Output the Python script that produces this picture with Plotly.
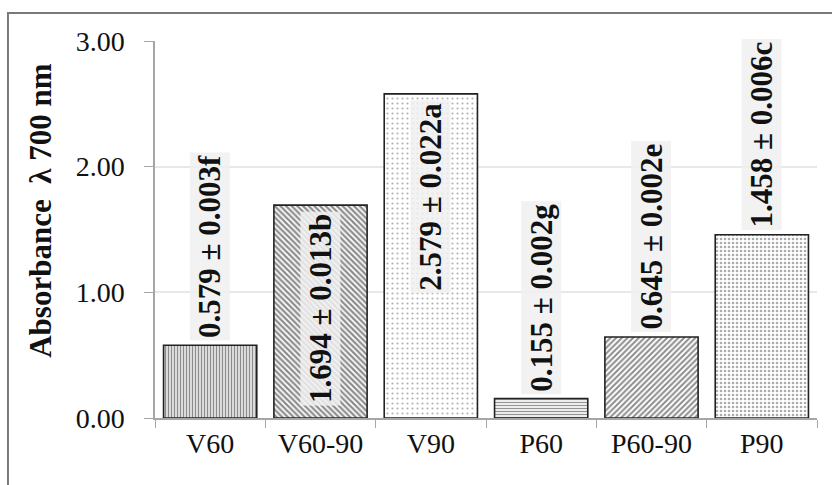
import plotly.graph_objects as go

# Absorbance at 700 nm for each extract (mean ± SD, with significance letters)
categories = ["V60", "V60-90", "V90", "P60", "P60-90", "P90"]
means = [0.579, 1.694, 2.579, 0.155, 0.645, 1.458]
sds = [0.003, 0.013, 0.022, 0.002, 0.002, 0.006]
letters = ["f", "b", "a", "g", "e", "c"]
y_ticks = [0.0, 1.0, 2.0, 3.0]

# Fill style of each bar
pattern_shapes = ["|", "\\", ".", "-", "/", "."]
pattern_sizes = [3, 4, 5, 3, 4, 4]
pattern_solidity = [0.55, 0.55, 0.15, 0.45, 0.5, 0.35]
pattern_colors = ["#1a1a1a", "#1a1a1a", "#666666", "#2a2a2a", "#1a1a1a", "#5a5a5a"]
label_inside = [False, True, True, False, False, False]

SERIF = "Liberation Serif, Times New Roman, serif"

fig = go.Figure()
fig.add_trace(go.Bar(
    x=categories,
    y=means,
    marker=dict(
        color="white",
        line=dict(color="#222222", width=1.6),
        pattern=dict(
            shape=pattern_shapes,
            size=pattern_sizes,
            solidity=pattern_solidity,
            fgcolor=pattern_colors,
            bgcolor="white",
            fillmode="overlay",
        ),
    ),
    hoverinfo="skip",
))

# Rotated value labels with a light backing box
for cat, m, s, let, inside in zip(categories, means, sds, letters, label_inside):
    fig.add_annotation(
        x=cat, y=m, xref="x", yref="y",
        text=f"{m:.3f} ± {s:.3f}{let}",
        textangle=-90,
        showarrow=False,
        xanchor="center",
        yanchor="top" if inside else "bottom",
        yshift=-6 if inside else 4,
        font=dict(family=SERIF, size=31, color="#111111", weight="bold"),
        bgcolor="rgba(240,240,240,0.85)",
        borderpad=2,
    )

# Axis title
fig.add_annotation(
    x=-0.172, y=0.55, xref="paper", yref="paper",
    text="Absorbance\u00a0 λ 700 nm",
    textangle=-90, showarrow=False,
    xanchor="center", yanchor="middle",
    font=dict(family=SERIF, size=31, color="#111111", weight="bold"),
)

# Outer frame
fig.add_shape(
    type="rect", xref="paper", yref="paper",
    x0=-0.2221, x1=1.2, y0=-0.4, y1=1.0743,
    line=dict(color="#7a7a7a", width=2),
    fillcolor="rgba(0,0,0,0)", layer="below",
)

fig.update_layout(
    width=832, height=485,
    margin=dict(l=155, r=15, t=41, b=67),
    paper_bgcolor="white",
    plot_bgcolor="white",
    bargap=0.155,
    showlegend=False,
    font=dict(family=SERIF, color="#111111"),
    xaxis=dict(
        showline=True, linecolor="#a6a6a6", linewidth=1.5,
        ticks="outside", tickson="boundaries", ticklen=8, tickcolor="#a6a6a6",
        tickfont=dict(family=SERIF, size=28, color="#111111"),
        showgrid=False,
    ),
    yaxis=dict(
        range=[0, 3],
        tickvals=y_ticks,
        tickformat=".2f",
        showline=True, linecolor="#a6a6a6", linewidth=1.5,
        ticks="outside", ticklen=9, tickcolor="#a6a6a6",
        ticklabelstandoff=14,
        tickfont=dict(family=SERIF, size=28, color="#111111"),
        showgrid=True, gridcolor="#e8e8e8", gridwidth=1.5,
        zeroline=False,
    ),
)

fig.write_html("out.html")
